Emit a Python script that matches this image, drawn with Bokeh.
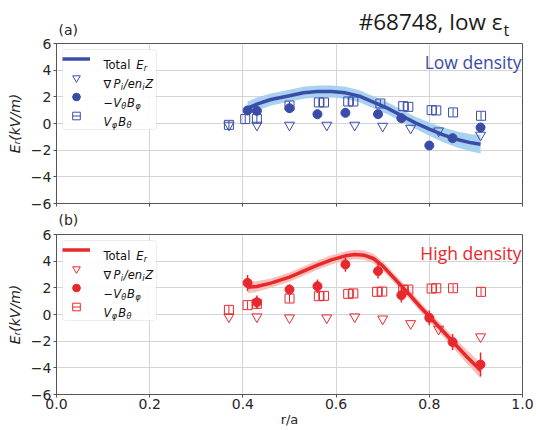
import math
from bokeh.plotting import figure
from bokeh.models import (ColumnDataSource, Legend, LegendItem, Label, BoxAnnotation,
                          FixedTicker, PrintfTickFormatter, Range1d, Div)
from bokeh.core.properties import value
from bokeh.layouts import column
from bokeh.embed import file_html
from bokeh.resources import INLINE

# ---------------- ticks ----------------
x_ticks = [0.0, 0.2, 0.4, 0.6, 0.8, 1.0]
y_ticks = [-6, -4, -2, 0, 2, 4, 6]
y_tick_labels = ["\u22126", "\u22124", "\u22122", "0", "2", "4", "6"]

# ---------------- (a) low density ----------------
r_fit_low = [0.41, 0.43, 0.46, 0.50, 0.53, 0.56, 0.59, 0.62, 0.65, 0.68, 0.71,
             0.74, 0.77, 0.80, 0.83, 0.86, 0.89, 0.91]
er_fit_low = [1.15, 1.45, 1.8, 2.08, 2.3, 2.4, 2.4, 2.3, 2.05, 1.6, 1.15,
              0.6, 0.05, -0.42, -0.85, -1.2, -1.45, -1.55]
band_low = [0.5, 0.5, 0.45, 0.45, 0.45, 0.45, 0.45, 0.45, 0.45, 0.45, 0.45,
            0.45, 0.45, 0.5, 0.55, 0.6, 0.65, 0.7]

r_grad_low = [0.37, 0.43, 0.50, 0.58, 0.64, 0.70, 0.76, 0.82, 0.91]
er_grad_low = [-0.12, -0.12, -0.12, -0.12, -0.12, -0.2, -0.35, -0.55, -0.87]

r_pol_low = [0.41, 0.43, 0.50, 0.56, 0.62, 0.69, 0.74, 0.80, 0.85, 0.91]
er_pol_low = [0.98, 0.95, 1.15, 0.7, 0.8, 0.7, 0.4, -1.65, -1.1, -0.3]
err_pol_low = [0.3, 0.3, 0.25, 0.2, 0.2, 0.2, 0.2, 0.2, 0.25, 0.3]

r_tor_low = [0.37, 0.405, 0.43, 0.50, 0.563, 0.574, 0.626, 0.637, 0.695,
             0.744, 0.755, 0.805, 0.815, 0.851, 0.911]
er_tor_low = [-0.1, 0.33, 0.35, 1.35, 1.58, 1.58, 1.65, 1.65, 1.5,
              1.3, 1.25, 1.0, 0.98, 0.83, 0.58]
err_tor_low = [0.3, 0.3, 0.3, 0.3, 0.3, 0.3, 0.3, 0.3, 0.3,
               0.3, 0.3, 0.3, 0.3, 0.3, 0.3]

# ---------------- (b) high density ----------------
r_fit_high = [0.41, 0.43, 0.46, 0.50, 0.53, 0.56, 0.59, 0.62, 0.64, 0.66, 0.68,
              0.70, 0.72, 0.74, 0.76, 0.78, 0.80, 0.82, 0.84, 0.86, 0.88, 0.90, 0.91]
er_fit_high = [2.05, 2.1, 2.35, 2.8, 3.25, 3.7, 4.1, 4.4, 4.5, 4.45, 4.2,
               3.65, 2.9, 2.15, 1.4, 0.6, -0.15, -0.9, -1.65, -2.4, -3.15, -3.85, -4.2]
band_high = [0.45, 0.4, 0.35, 0.35, 0.35, 0.35, 0.35, 0.35, 0.35, 0.35, 0.35,
             0.35, 0.35, 0.35, 0.35, 0.35, 0.35, 0.4, 0.4, 0.45, 0.5, 0.55, 0.6]

r_grad_high = [0.37, 0.43, 0.50, 0.58, 0.64, 0.70, 0.76, 0.82, 0.91]
er_grad_high = [-0.17, -0.17, -0.25, -0.25, -0.17, -0.33, -0.68, -1.1, -1.67]

r_pol_high = [0.41, 0.43, 0.50, 0.56, 0.62, 0.69, 0.74, 0.80, 0.85, 0.91]
er_pol_high = [2.37, 0.92, 1.87, 2.12, 3.75, 3.25, 1.45, -0.25, -2.07, -3.75]
err_pol_high = [0.6, 0.5, 0.4, 0.5, 0.55, 0.55, 0.55, 0.55, 0.6, 0.9]

r_tor_high = [0.37, 0.41, 0.43, 0.50, 0.563, 0.574, 0.626, 0.637, 0.688, 0.699,
              0.744, 0.755, 0.805, 0.815, 0.851, 0.911]
er_tor_high = [0.35, 0.7, 0.8, 1.2, 1.37, 1.4, 1.55, 1.58, 1.7, 1.72,
               1.85, 1.87, 1.95, 1.97, 1.97, 1.7]
err_tor_high = [0.3, 0.3, 0.3, 0.3, 0.3, 0.3, 0.3, 0.3, 0.3, 0.3,
                0.3, 0.3, 0.3, 0.3, 0.3, 0.3]

# ---------------- styling / layout ----------------
LEFT, RIGHT = 56, 13
FRAME_W, FRAME_H = 466, 160
TOTAL_W = LEFT + FRAME_W + RIGHT
BLUE, BLUE_BAND = "#3a4ca8", "#9fcdee"
RED, RED_BAND = "#e8282d", "#f6b9b0"
INK = "#262626"
SPINE = "#555555"
GRID = "#d4d4d4"

# approximate DejaVu Sans advance widths (em) for legend text runs
W = {"T": 0.611, "o": 0.612, "t": 0.392, "a": 0.613, "l": 0.278, " ": 0.318,
     "E": 0.632, "r": 0.411, "\u2207": 0.838, "P": 0.603, "i": 0.278, "/": 0.337,
     "e": 0.615, "n": 0.634, "Z": 0.685, "\u2212": 0.838, "V": 0.684,
     "\u03b8": 0.612, "B": 0.686, "\u03c6": 0.70}


def text_width(s, size):
    return sum(W.get(c, 0.6) for c in s) * size


def add_runs(p, x, y, parts):
    for text, italic, sub in parts:
        size = 8.2 if sub else 11.5
        yy = y - 3 if sub else y
        p.add_layout(Label(x=x, y=yy, x_units="screen", y_units="screen", text=text,
                           text_font="DejaVu Sans", text_font_size=f"{size}px",
                           text_font_style="italic" if italic else "normal",
                           text_color="#111111", text_baseline="alphabetic",
                           text_align="left"))
        x += text_width(text, size) + (0.8 if sub else 0.3)


def span(text, left=None, right=None, top=0, font="DejaVu Sans", size=14, color=INK):
    pos = f"left:{left}px;" if left is not None else f"right:{right}px;"
    return (f'<span style="position:absolute;{pos}top:{top}px;white-space:nowrap;'
            f"font-family:'{font}';font-size:{size}px;line-height:{size}px;"
            f'color:{color};">{text}</span>')


def header(height, spans):
    html = (f'<div style="position:relative;width:{TOTAL_W}px;height:{height}px;'
            f'margin:0;padding:0;overflow:visible;">' + "".join(spans) + "</div>")
    return Div(text=html, width=TOTAL_W, height=height, margin=(0, 0, 0, 0))


def make_panel(r_fit, e_fit, half, r_grad, e_grad, r_pol, e_pol, err_pol,
               r_tor, e_tor, err_tor, color, band_color, density,
               border_top, border_bottom, bottom_axis):
    p = figure(frame_width=FRAME_W, frame_height=FRAME_H,
               x_range=Range1d(0, 1), y_range=Range1d(-6, 6),
               output_backend="svg", toolbar_location=None, title=None,
               min_border_left=LEFT, min_border_right=RIGHT,
               min_border_top=border_top, min_border_bottom=border_bottom,
               background_fill_color="white", border_fill_color="white")
    p.outline_line_color = SPINE
    p.outline_line_width = 1
    p.grid.grid_line_color = GRID
    p.grid.grid_line_width = 1

    # legend box (drawn above the grid, below the data glyphs)
    p.add_layout(BoxAnnotation(left=6, right=100, top=FRAME_H - 6, bottom=FRAME_H - 86,
                               left_units="screen", right_units="screen",
                               top_units="screen", bottom_units="screen",
                               fill_color="white", fill_alpha=0.9, border_radius=3,
                               line_color="#c4c4c4", line_width=1, level="underlay"))

    fit = ColumnDataSource(dict(r=r_fit, e=e_fit,
                                lo=[e - h for e, h in zip(e_fit, half)],
                                hi=[e + h for e, h in zip(e_fit, half)]))
    p.varea(x="r", y1="lo", y2="hi", source=fit, fill_color=band_color, fill_alpha=0.9)
    line = p.line("r", "e", source=fit, line_color=color, line_width=3.5)

    grad = ColumnDataSource(dict(r=r_grad, e=e_grad))
    tri = p.scatter("r", "e", source=grad, marker="inverted_triangle", size=10,
                    fill_color=None, line_color=color, line_width=1)

    tor = ColumnDataSource(dict(r=r_tor, e=e_tor,
                                lo=[e - s for e, s in zip(e_tor, err_tor)],
                                hi=[e + s for e, s in zip(e_tor, err_tor)]))
    p.segment(x0="r", y0="lo", x1="r", y1="hi", source=tor, line_color=color, line_width=1)
    sq = p.scatter("r", "e", source=tor, marker="square", size=9,
                   fill_color=None, line_color=color, line_width=1)

    pol = ColumnDataSource(dict(r=r_pol, e=e_pol,
                                lo=[e - s for e, s in zip(e_pol, err_pol)],
                                hi=[e + s for e, s in zip(e_pol, err_pol)]))
    p.segment(x0="r", y0="lo", x1="r", y1="hi", source=pol, line_color=color, line_width=1.5)
    circ = p.scatter("r", "e", source=pol, marker="circle", size=9,
                     fill_color=color, line_color=color)

    # legend proxies for the error-bar glyphs (NaN: never drawn in the plot)
    nan = float("nan")
    proxy = ColumnDataSource(dict(r=[nan], e=[nan]))
    bar_c = p.scatter("r", "e", source=proxy, marker="dash", angle=math.pi / 2,
                      size=16, line_color=color, line_width=1.5)
    bar_s = p.scatter("r", "e", source=proxy, marker="dash", angle=math.pi / 2,
                      size=15, line_color=color, line_width=1)

    legend = Legend(items=[LegendItem(label=value(" "), renderers=[line]),
                           LegendItem(label=value(" "), renderers=[tri]),
                           LegendItem(label=value(" "), renderers=[bar_c, circ]),
                           LegendItem(label=value(" "), renderers=[bar_s, sq])],
                    location="top_left", margin=6, padding=2, spacing=0,
                    glyph_width=28, glyph_height=19, label_height=19,
                    label_width=52, label_standoff=11,
                    label_text_font_size="11px",
                    border_line_color=None, background_fill_alpha=0)
    p.add_layout(legend)

    tx = 6 + 2 + 28 + 11
    row0 = FRAME_H - 6 - 2 - 9.5
    add_runs(p, tx, row0 - 4.2, [("Total ", False, False), ("E", True, False), ("r", True, True)])
    add_runs(p, tx, row0 - 19 - 4.2, [("\u2207", False, False), ("P", True, False), ("i", True, True),
                                      ("/en", True, False), ("i", True, True), ("Z", True, False)])
    add_runs(p, tx, row0 - 38 - 4.2, [("\u2212V", True, False), ("\u03b8", True, True),
                                      ("B", True, False), ("\u03c6", True, True)])
    add_runs(p, tx, row0 - 57 - 4.2, [("V", True, False), ("\u03c6", True, True),
                                      ("B", True, False), ("\u03b8", True, True)])

    p.add_layout(Label(x=FRAME_W - 1, y=FRAME_H - 6, x_units="screen", y_units="screen",
                       text=density, text_align="right", text_baseline="top",
                       text_font="Open Sans", text_font_size="17.5px", text_color=color))

    for ax in p.axis:
        ax.major_tick_out = 3
        ax.major_tick_in = 0
        ax.minor_tick_out = 0
        ax.minor_tick_in = 0
        ax.axis_line_color = SPINE
        ax.major_tick_line_color = SPINE
        ax.major_label_text_font = "DejaVu Sans"
        ax.major_label_text_font_size = "14px"
        ax.major_label_text_color = INK
        ax.major_label_standoff = 2

    p.xaxis.ticker = FixedTicker(ticks=x_ticks)
    p.yaxis.ticker = FixedTicker(ticks=y_ticks)
    p.yaxis.major_label_overrides = {t: s for t, s in zip(y_ticks, y_tick_labels)}
    p.yaxis.axis_label = "E\u1d63(kV/m)"
    p.yaxis.axis_label_text_font = "DejaVu Sans"
    p.yaxis.axis_label_text_font_style = "italic"
    p.yaxis.axis_label_text_font_size = "14px"
    p.yaxis.axis_label_text_color = INK
    p.yaxis.axis_label_standoff = 5

    if bottom_axis:
        p.xaxis.formatter = PrintfTickFormatter(format="%.1f")
        p.xaxis.major_label_standoff = 1
        p.xaxis.axis_label = "r/a"
        p.xaxis.axis_label_text_font = "DejaVu Sans"
        p.xaxis.axis_label_text_font_style = "normal"
        p.xaxis.axis_label_text_font_size = "13px"
        p.xaxis.axis_label_text_color = INK
        p.xaxis.axis_label_standoff = 0
    else:
        p.xaxis.major_label_overrides = {t: "" for t in x_ticks}
    return p


# header rows (panel tags and figure title) as real text
head_a = header(37, [
    span("(a)", left=LEFT + 2.5, top=22.5, size=14),
    span("#68748, low \u03b5", right=TOTAL_W - 502.5, top=11, font="Open Sans",
         size=22.5, color="#1a1a1a"),
    span("t", left=503.5, top=21.5, font="Open Sans", size=16, color="#1a1a1a"),
])

p1 = make_panel(r_fit_low, er_fit_low, band_low, r_grad_low, er_grad_low,
                r_pol_low, er_pol_low, err_pol_low, r_tor_low, er_tor_low, err_tor_low,
                BLUE, BLUE_BAND, "Low density", 6, 9, False)

head_b = header(16, [span("(b)", left=LEFT + 2.5, top=1.2, size=14)])

p2 = make_panel(r_fit_high, er_fit_high, band_high, r_grad_high, er_grad_high,
                r_pol_high, er_pol_high, err_pol_high, r_tor_high, er_tor_high, err_tor_high,
                RED, RED_BAND, "High density", 6, 36, True)

layout = column(head_a, p1, head_b, p2)
open("out.html", "w").write(file_html(layout, INLINE))
